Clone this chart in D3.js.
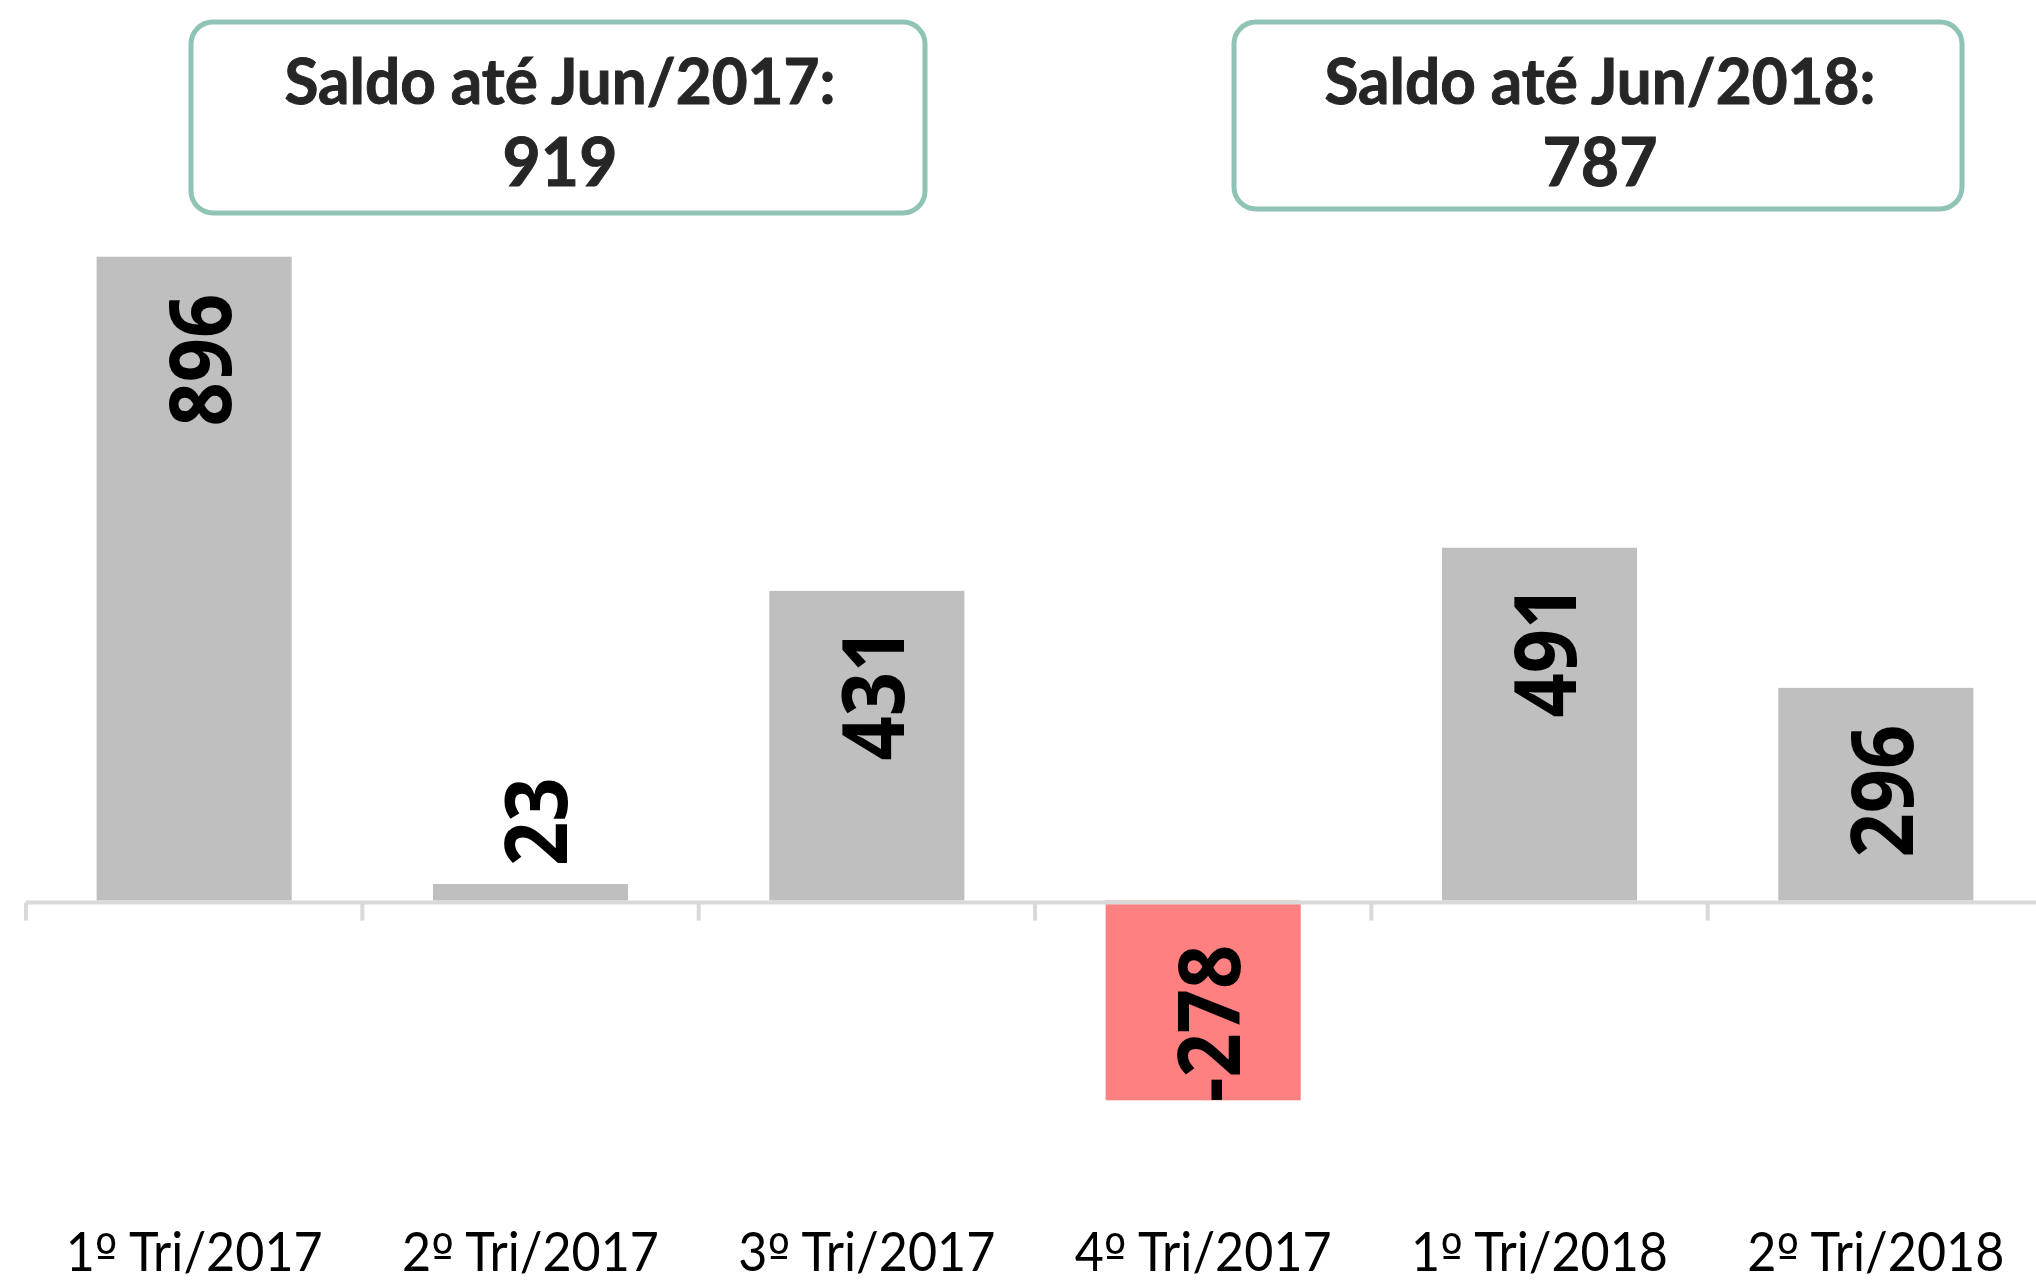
<!DOCTYPE html>
<html>
<head>
<meta charset="utf-8">
<script src="https://cdn.jsdelivr.net/npm/d3@7"></script>
<style>
  body { margin: 0; background: #fff; }
  svg { display: block; }
</style>
</head>
<body>
<div id="chart"></div>
<script>
// Chart data
var categories = ["1º Tri/2017", "2º Tri/2017", "3º Tri/2017", "4º Tri/2017", "1º Tri/2018", "2º Tri/2018"];
var values = [896, 23, 431, -278, 491, 296];
var boxTitles = ["Saldo até Jun/2017:", "Saldo até Jun/2018:"];
var boxValues = ["919", "787"];

var width = 2036;
var height = 1287;

var svg = d3.select("#chart")
    .append("svg")
    .attr("width", width)
    .attr("height", height);

// Scales
var x = d3.scaleBand()
    .domain(categories)
    .range([26, 2044])
    .paddingInner(0.42)
    .paddingOuter(0.21);

var y = d3.scaleLinear()
    .domain([-400, 1000])
    .range([1188, 182]);

// Bars
svg.selectAll("rect.bar")
    .data(values)
    .enter()
    .append("rect")
    .attr("class", "bar")
    .attr("x", (d, i) => x(categories[i]))
    .attr("width", x.bandwidth())
    .attr("y", d => y(Math.max(0, d)))
    .attr("height", d => Math.abs(y(d) - y(0)))
    .attr("fill", d => d < 0 ? "#ff8080" : "#bfbfbf");

// Axis line and ticks between categories
var bounds = categories.map(c => x(c) - x.step() * x.paddingInner() / 2);
var axisY = y(0) + 2;

svg.append("line")
    .attr("x1", bounds[0])
    .attr("x2", width)
    .attr("y1", axisY)
    .attr("y2", axisY)
    .attr("stroke", "#d9d9d9")
    .attr("stroke-width", 4);

svg.selectAll("line.tick")
    .data(bounds)
    .enter()
    .append("line")
    .attr("class", "tick")
    .attr("x1", d => d)
    .attr("x2", d => d)
    .attr("y1", axisY)
    .attr("y2", axisY + 18)
    .attr("stroke", "#d9d9d9")
    .attr("stroke-width", 4);

// Category labels (ordinal sign in a font that underlines it)
svg.selectAll("text.cat")
    .data(categories)
    .enter()
    .append("text")
    .attr("class", "cat")
    .attr("x", d => x(d) + x.bandwidth() / 2)
    .attr("y", 1271)
    .attr("text-anchor", "middle")
    .attr("font-family", "Lato, 'Open Sans', sans-serif")
    .attr("font-size", 54)
    .attr("fill", "#000")
    .attr("textLength", 257)
    .attr("lengthAdjust", "spacingAndGlyphs")
    .each(function (d) {
      var parts = d.split("º");
      var t = d3.select(this);
      t.append("tspan").text(parts[0]);
      t.append("tspan").attr("font-family", "'DejaVu Sans', sans-serif").attr("font-size", 52).text("º");
      t.append("tspan").text(parts[1]);
    });

// Value labels (rotated)
svg.selectAll("text.val")
    .data(values)
    .enter()
    .append("text")
    .attr("class", "val")
    .attr("transform", function (d, i) {
      var cx = x(categories[i]) + x.bandwidth() / 2 + 6;
      var py;
      if (d < 0) py = y(d) + 2;
      else if (d < 60) py = y(d) - 18;
      else py = y(d) + 37;
      return "translate(" + cx + "," + py + ") rotate(-90) scale(0.9,1)";
    })
    .attr("text-anchor", d => d < 0 ? "start" : (d < 60 ? "start" : "end"))
    .attr("dy", "0.36em")
    .attr("font-family", "'Open Sans', sans-serif")
    .attr("font-weight", "bold")
    .attr("font-size", 86)
    .attr("fill", "#000")
    .text(d => d);

// Summary boxes
var boxes = [
  { x0: 191, x1: 925, y0: 22, y1: 213 },
  { x0: 1234, x1: 1962, y0: 22, y1: 209 }
];

boxes.forEach(function (b, i) {
  svg.append("rect")
    .attr("x", b.x0)
    .attr("y", b.y0)
    .attr("width", b.x1 - b.x0)
    .attr("height", b.y1 - b.y0)
    .attr("rx", 22)
    .attr("fill", "#fff")
    .attr("stroke", "#8fc3b5")
    .attr("stroke-width", 5);

  var cx = (b.x0 + b.x1) / 2 + 2;
  svg.append("text")
    .attr("x", cx)
    .attr("y", b.y0 + 82)
    .attr("text-anchor", "middle")
    .attr("font-family", "Lato, 'Open Sans', sans-serif")
    .attr("font-weight", "bold")
    .attr("font-size", 64)
    .attr("fill", "#262626")
    .attr("stroke", "#262626")
    .attr("stroke-width", 1)
    .attr("textLength", 551)
    .attr("lengthAdjust", "spacingAndGlyphs")
    .text(boxTitles[i]);

  svg.append("text")
    .attr("x", cx)
    .attr("y", b.y0 + 164)
    .attr("text-anchor", "middle")
    .attr("font-family", "Lato, 'Open Sans', sans-serif")
    .attr("font-weight", "bold")
    .attr("font-size", 66)
    .attr("fill", "#262626")
    .attr("stroke", "#262626")
    .attr("stroke-width", 1)
    .text(boxValues[i]);
});
</script>
</body>
</html>
